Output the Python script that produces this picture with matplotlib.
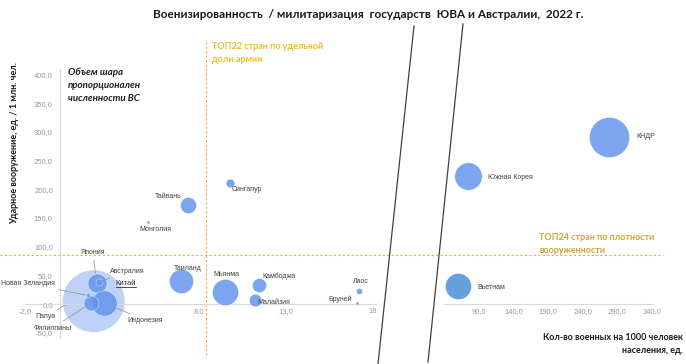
import matplotlib
matplotlib.use("Agg")
import matplotlib.pyplot as plt
import matplotlib.transforms as mtransforms
from matplotlib.lines import Line2D

plt.rcParams['font.family'] = ['Liberation Sans', 'DejaVu Sans']

# ---- data ----
# left panel: countries with few soldiers per 1000
left_names = ['Китай', 'Япония', 'Австралия', 'Индонезия', 'Филиппины', 'Папуа', 'Новая Зеландия',
              'Таиланд', 'Мьянма', 'Камбоджа', 'Малайзия', 'Лаос', 'Бруней',
              'Сингапур', 'Тайвань', 'Монголия']
left_x = [1.95, 2.13, 2.24, 2.53, 1.78, 0.34, 1.6, 6.95, 9.48, 11.44, 11.2, 17.18, 17.07, 9.77, 7.36, 5.06]
left_y = [5, 37.5, 38, 2.6, 1.7, -1, 15, 40, 21, 33, 7, 23, 1, 211, 172, 143]
left_army = [2035, 191, 26, 342, 119, 2, 8, 305, 358, 104, 81, 19, 5, 39, 136, 5]   # thous.

# right panel
right_names = ['Вьетнам', 'Южная Корея', 'КНДР']
right_x = [59.7, 74.1, 277.9]
right_y = [31, 223, 291]
right_army = [358, 397, 847]

x_thr = 8.4     # ТОП22 border
y_thr = 85      # ТОП24 border

left_xticks = [-2, 3, 8, 13, 18]
left_xlabels = ['-2,0', '3,0', '8,0', '13,0', '18']
yticks = [-50, 0, 50, 100, 150, 200, 250, 300, 350, 400]
right_xticks = [90, 140, 190, 240, 290, 340]

# ---- styles ----
blue = '#6495ED'
gold = '#E8B23A'
tick_col = '#9a9a9a'
spine_col = '#d9d9d9'
size_k = 0.98

# label offsets in px (dx, dy up), ha, leader?
lab = {
    'Тайвань': (-6, 9, 'right', False),
    'Монголия': (8, -7, 'center', False),
    'Сингапур': (2, -6, 'left', False),
    'Таиланд': (7, 13, 'center', False),
    'Мьянма': (2, 18, 'center', False),
    'Камбоджа': (4, 9, 'left', False),
    'Малайзия': (3, -2, 'left', False),
    'Лаос': (2, 9, 'center', False),
    'Бруней': (-5, 4, 'right', False),
    'Китай': (22, 18, 'left', False),
    'Япония': (-4, 30, 'center', True),
    'Австралия': (11, 11, 'left', True),
    'Новая Зеландия': (-33, 12, 'right', True),
    'Папуа': (-10, -12, 'right', True),
    'Филиппины': (-19, -25, 'right', True),
    'Индонезия': (24, -18, 'left', True),
    'КНДР': (27, 1, 'left', False),
    'Южная Корея': (20, -1, 'left', False),
    'Вьетнам': (19, -1, 'left', False),
}

W, H = 686, 364
fig = plt.figure(figsize=(W / 100, H / 100), dpi=100)

ylim = (-104.5, 530)
ax1 = fig.add_axes([25 / W, 0, 353 / W, 1])
ax2 = fig.add_axes([444 / W, 0, 209 / W, 1])
for ax in (ax1, ax2):
    ax.set_facecolor('none')
    ax.set_ylim(*ylim)
    for s in ('top', 'right'):
        ax.spines[s].set_visible(False)
    ax.spines['bottom'].set_position(('data', 0))
    ax.spines['bottom'].set_color(spine_col)
    ax.tick_params(length=0, labelsize=5.5, labelcolor=tick_col)
ax1.set_xlim(-2, 18.3)
ax2.set_xlim(39.4, 341.4)

ax1.spines['left'].set_position(('data', 0))
ax1.spines['left'].set_color(spine_col)
ax1.spines['left'].set_bounds(-60, 410)
ax1.spines['bottom'].set_bounds(-2, 18.2)
ax1.set_yticks(yticks)
ax1.set_yticklabels([f'{v:.1f}'.replace('.', ',') for v in yticks])
ax1.tick_params(axis='y', pad=5)
ax1.set_xticks(left_xticks)
ax1.set_xticklabels(left_xlabels)
ax1.tick_params(axis='x', pad=3)

ax2.spines['left'].set_visible(False)
ax2.set_yticks([])
ax2.set_xticks(right_xticks)
ax2.set_xticklabels([f'{v:.1f}'.replace('.', ',') for v in right_xticks])
ax2.tick_params(axis='x', pad=3)

# threshold lines
ax1.plot([x_thr, x_thr], [-89, 460], color=gold, lw=0.8, ls=(0, (2, 2)), zorder=1)
tr = mtransforms.blended_transform_factory(fig.transFigure, ax1.transData)
fig.add_artist(Line2D([0, 663 / W], [y_thr, y_thr], transform=tr, color=gold, lw=0.8, ls=(0, (2, 2))))


def bubbles(ax, names, xs, ys, army):
    china_txt = None
    for n, x, y, a in zip(names, xs, ys, army):
        s = a * size_k
        if n == 'Китай':
            ax.scatter(x, y, s=s, color='#a9c4f6', alpha=0.75, edgecolor='none', zorder=2)
        else:
            c = '#4a8fd6' if n == 'Вьетнам' else blue
            ax.scatter(x, y, s=s, color=c, alpha=0.85, edgecolor='white', lw=0.3, zorder=3)
        dx, dy, ha, leader = lab[n]
        kw = dict(xy=(x, y), xytext=(dx * 0.72, dy * 0.72), textcoords='offset points',
                  ha=ha, va='center', fontsize=5, color='#404040', zorder=5)
        if leader:
            r_pt = (s ** 0.5) / 2
            kw['arrowprops'] = dict(arrowstyle='-', color='#8c8c8c', lw=0.5, shrinkA=1, shrinkB=r_pt)
        t = ax.annotate(n, **kw)
        if n == 'Китай':
            t.set_color('#303030')
            t.set_fontsize(5.5)
            china_txt = t
    return china_txt


china_txt = bubbles(ax1, left_names, left_x, left_y, left_army)
bubbles(ax2, right_names, right_x, right_y, right_army)

# axis-break marks
fig.add_artist(Line2D([414 / W, 378 / W], [1 - 26 / H, 1 - 364 / H], color='#404040', lw=0.9))
fig.add_artist(Line2D([463 / W, 428 / W], [1 - 24 / H, 1 - 362 / H], color='#404040', lw=0.9))

# texts
fig.text(368 / W, 1 - 14 / H, 'Военизированность  / милитаризация  государств  ЮВА и Австралии,  2022 г.',
         ha='center', va='center', fontsize=8.5, fontweight='bold', family='Lato', color='#1a1a1a')
fig.text(15 / W, 1 - 143 / H, 'Ударное вооружение, ед. / 1 млн. чел.', rotation=90,
         ha='center', va='center', fontsize=6.5, fontweight='bold', family='Lato', color='#1a1a1a')
fig.text(68 / W, 1 - 85 / H, 'Объем шара\nпропорционален\nчисленности ВС', ha='left', va='center',
         fontsize=7, fontweight='bold', style='italic', family='Lato', linespacing=1.6, color='#1a1a1a')
fig.text(212 / W, 1 - 53 / H, 'ТОП22 стран по удельной\nдоли армии', ha='left', va='center',
         fontsize=6.5, fontweight='bold', family='Lato', linespacing=1.6, color='#EDBE2C')
fig.text(539 / W, 1 - 244 / H, 'ТОП24 стран по плотности\nвооруженности', ha='left', va='center',
         fontsize=6.5, fontweight='bold', family='Lato', linespacing=1.6, color='#D0A532')
fig.text(683 / W, 1 - 344 / H, 'Кол-во военных на 1000 человек\nнаселения, ед.', ha='right', va='center',
         fontsize=6.5, fontweight='bold', family='Lato', linespacing=1.5, color='#1a1a1a', multialignment='right')

# underline for "Китай"
fig.canvas.draw()
bb = china_txt.get_window_extent()
fig.add_artist(Line2D([bb.x0 / W, bb.x1 / W], [(bb.y0 - 0.5) / H, (bb.y0 - 0.5) / H], color='#303030', lw=0.6))

fig.savefig('out.png', dpi=100)
